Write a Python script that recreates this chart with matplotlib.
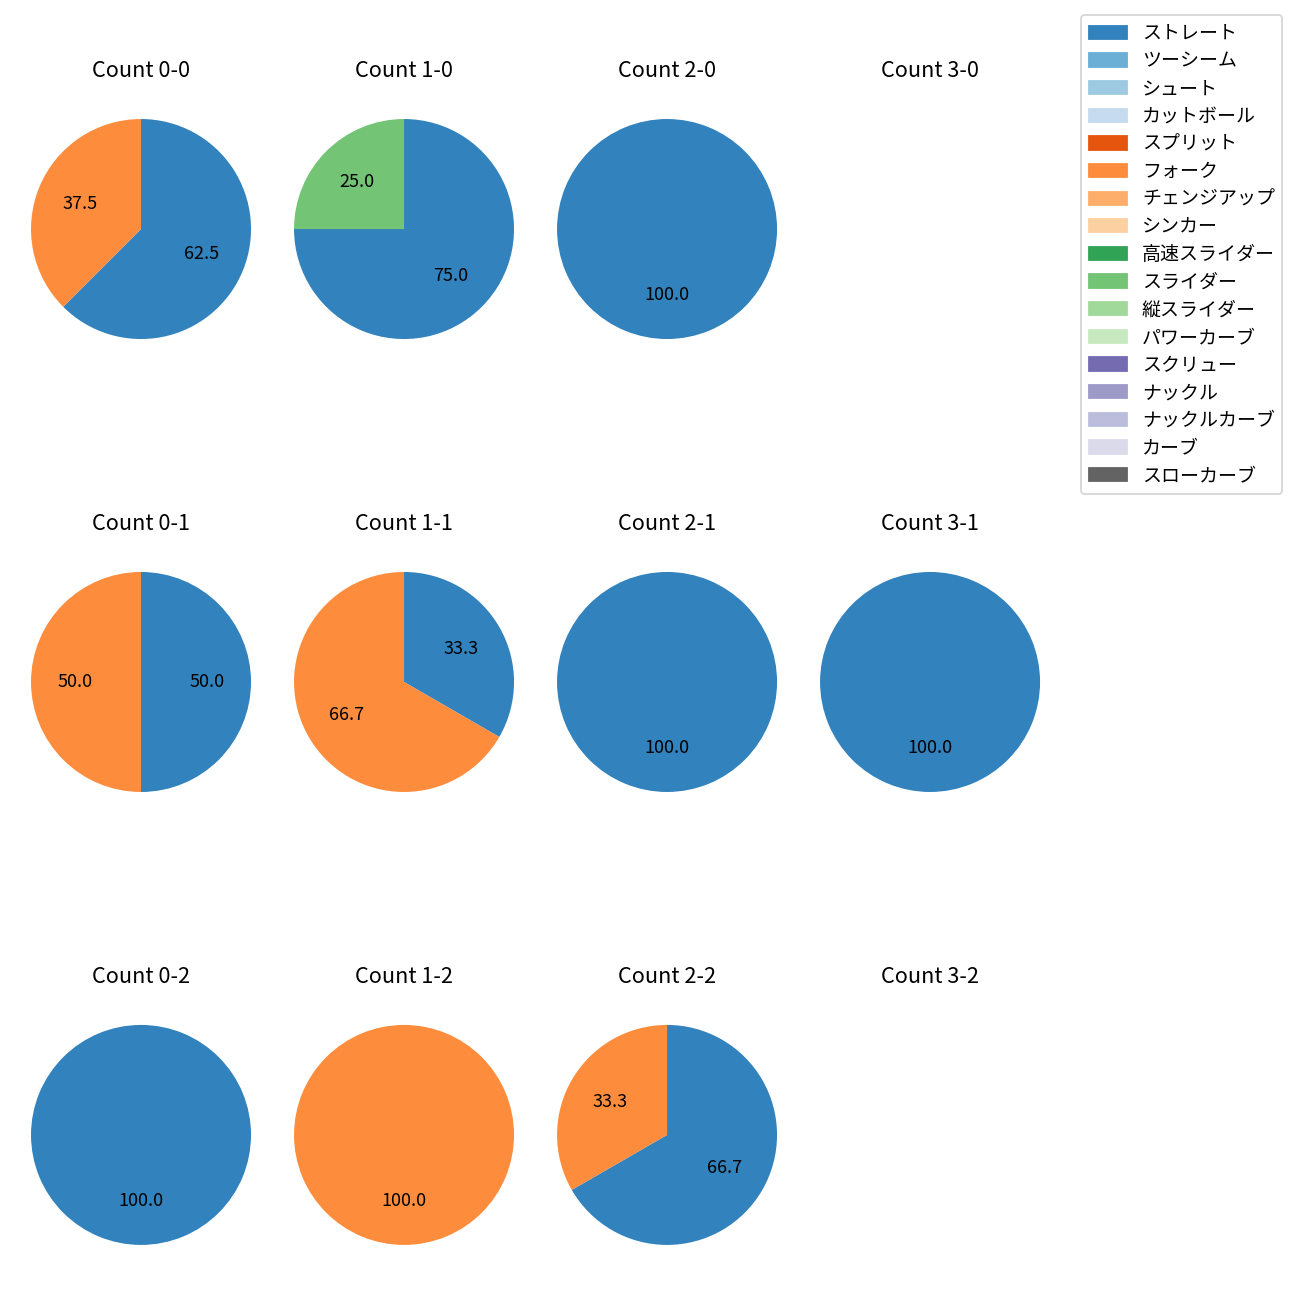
import matplotlib
matplotlib.use('Agg')
import matplotlib.pyplot as plt
from matplotlib.patches import Patch

plt.rcParams['font.family'] = ['Noto Sans CJK JP', 'DejaVu Sans']

pitch_types = ['ストレート', 'ツーシーム', 'シュート', 'カットボール', 'スプリット', 'フォーク',
               'チェンジアップ', 'シンカー', '高速スライダー', 'スライダー', '縦スライダー',
               'パワーカーブ', 'スクリュー', 'ナックル', 'ナックルカーブ', 'カーブ', 'スローカーブ']

# counts ordered row by row: 0-0,1-0,2-0,3-0, 0-1,1-1,2-1,3-1, 0-2,1-2,2-2,3-2
count_labels = ['0-0', '1-0', '2-0', '3-0',
                '0-1', '1-1', '2-1', '3-1',
                '0-2', '1-2', '2-2', '3-2']
straight = [5, 3, 1, 0, 1, 1, 1, 1, 1, 0, 2, 0]
fork = [3, 0, 0, 0, 1, 2, 0, 0, 0, 1, 1, 0]
slider = [0, 1, 0, 0, 0, 0, 0, 0, 0, 0, 0, 0]

colors = plt.get_cmap('tab20c').colors
series = {0: straight, 5: fork, 9: slider}

fig, axes = plt.subplots(3, 4, figsize=(10, 10), dpi=130)
fig.subplots_adjust(left=0.0027, right=0.8212, top=0.9296, bottom=0.0212,
                    wspace=-0.0436, hspace=0.647)

for k, ax in enumerate(axes.flat):
    vals, cols = [], []
    for idx in sorted(series):
        v = series[idx][k]
        if v > 0:
            vals.append(v)
            cols.append(colors[idx])
    ax.set_title('Count ' + count_labels[k], pad=8.2)
    if vals:
        ax.pie(vals, colors=cols, autopct='%.1f', startangle=90, counterclock=False)
    else:
        ax.axis('off')

handles = [Patch(color=colors[i], label=pitch_types[i]) for i in range(len(pitch_types))]
fig.legend(handles=handles, loc='upper right', bbox_to_anchor=(0.9938, 0.9954),
           fontsize=10.5, labelspacing=0.35)

fig.savefig('out.png')
